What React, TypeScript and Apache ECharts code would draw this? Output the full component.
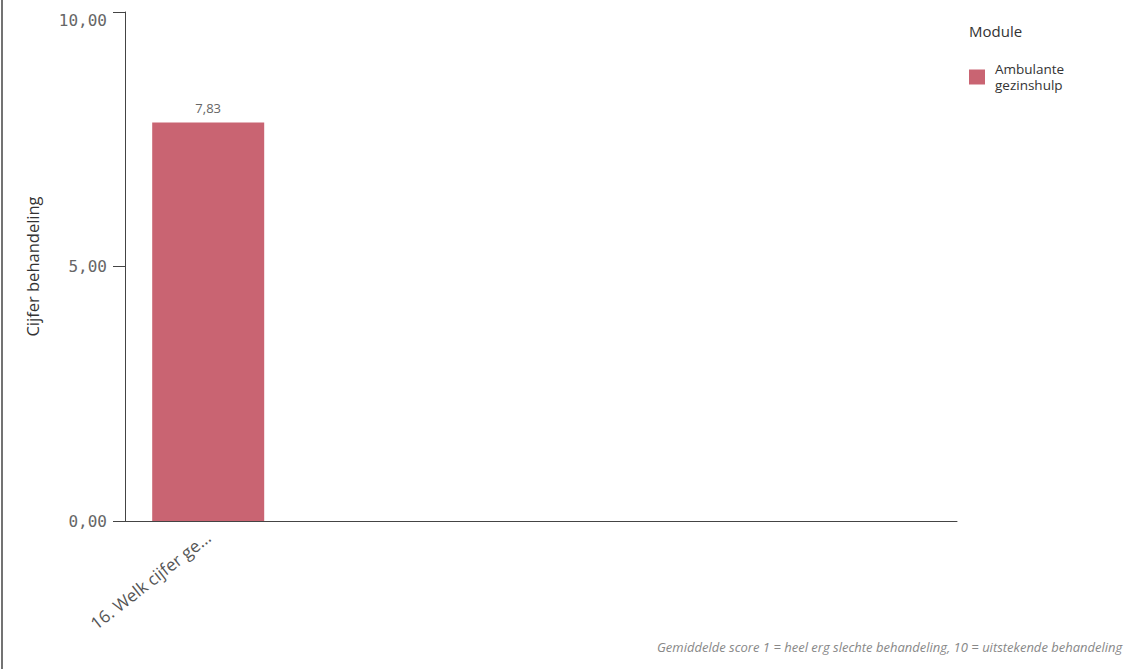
import React, { useEffect, useRef } from "react";
import * as echarts from "echarts";

const categories = ["16. Welk cijfer ge...", "", "", "", ""];
const seriesName = "Ambulante\ngezinshulp";
const values: (number | null)[] = [7.83, null, null, null, null];
const yTicks = [0, 5, 10];
const legendTitle = "Module";
const yAxisName = "Cijfer behandeling";
const footnote = "Gemiddelde score 1 = heel erg slechte behandeling, 10 = uitstekende behandeling";

const fmt = (v: number) => v.toFixed(2).replace(".", ",");

export default function App() {
  const ref = useRef<HTMLDivElement>(null);
  useEffect(() => {
    if (!ref.current) return;
    const chart = echarts.init(ref.current, undefined, { renderer: "svg" });
    const yMax = yTicks[yTicks.length - 1];
    chart.setOption({
      animation: false,
      backgroundColor: "#fff",
      grid: { left: 125, top: 12, right: 170, bottom: 148 },
      legend: {
        left: 964,
        top: 56,
        orient: "vertical",
        icon: "rect",
        itemWidth: 16,
        itemHeight: 15,
        itemGap: 10,
        textStyle: {
          fontFamily: "Open Sans",
          fontSize: 13.5,
          color: "#333",
          lineHeight: 16,
          padding: [0, 0, 0, 5],
        },
        data: [seriesName],
      },
      xAxis: {
        type: "category",
        data: categories,
        axisLine: { lineStyle: { color: "#444", width: 1 } },
        axisTick: { show: false },
        axisLabel: {
          rotate: 38,
          interval: 0,
          fontFamily: "Open Sans",
          fontSize: 17,
          color: "#555",
          margin: 14,
        },
      },
      yAxis: {
        type: "value",
        min: 0,
        max: yMax,
        interval: 5,
        name: yAxisName,
        nameLocation: "middle",
        nameGap: 84,
        nameRotate: 90,
        nameTextStyle: { fontFamily: "Open Sans", fontSize: 16.5, color: "#333" },
        axisLine: { show: true, lineStyle: { color: "#444", width: 1 } },
        axisTick: { show: true, length: 12, lineStyle: { color: "#444" } },
        splitLine: { show: false },
        axisLabel: {
          fontFamily: "DejaVu Sans Mono",
          fontSize: 16,
          color: "#666",
          margin: 18,
          formatter: (v: number) =>
            yTicks.includes(v) ? (v === yMax ? "{top|" + fmt(v) + "}" : fmt(v)) : "",
          rich: {
            top: {
              fontFamily: "DejaVu Sans Mono",
              fontSize: 16,
              color: "#666",
              padding: [17, 0, 0, 0],
            },
          },
        },
      },
      series: [
        {
          name: seriesName,
          type: "bar",
          data: values,
          barWidth: 112,
          itemStyle: { color: "#c96472" },
          label: {
            show: true,
            position: "top",
            distance: 8,
            fontFamily: "Open Sans",
            fontSize: 13,
            color: "#666",
            formatter: (p: any) => fmt(p.value),
          },
        },
      ],
      graphic: [
        {
          type: "text",
          left: 969,
          top: 23,
          style: { text: legendTitle, fontFamily: "Open Sans", fontSize: 15, fill: "#333" },
        },
        {
          type: "text",
          x: 657,
          y: 640,
          style: {
            text: footnote,
            fontFamily: "Open Sans",
            fontStyle: "italic",
            fontSize: 13,
            fill: "#888",
          },
        },
        {
          type: "line",
          shape: { x1: 2, y1: 0, x2: 2, y2: 669 },
          style: { stroke: "#444", lineWidth: 1.5 },
        },
      ],
    });
    return () => chart.dispose();
  }, []);
  return (
    <div
      ref={ref}
      style={{ position: "fixed", left: 0, top: 0, width: 1127, height: 669 }}
    />
  );
}
